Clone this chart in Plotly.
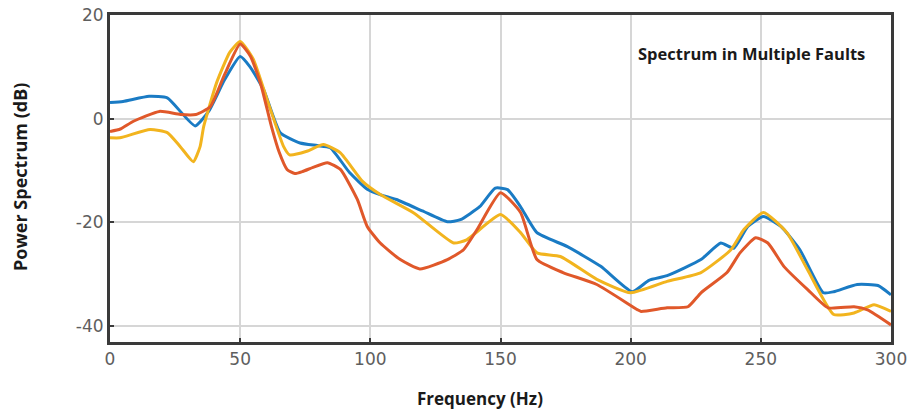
import plotly.graph_objects as go

blue_x = [0, 5, 15, 22, 32.7, 38, 44, 50, 53.8, 59, 65.4, 73, 79.6, 84.6, 92, 98.8, 104, 110, 120, 129.6, 134.6, 142, 148, 152.7, 157.7, 164, 175.7, 188.5, 200.6, 207, 214, 227, 234.6, 239.6, 245, 251, 257.7, 265, 274, 278, 287, 295, 300]
blue_y = [3.1, 3.3, 4.3, 4.0, -1.4, 1.5, 7.5, 12.0, 10.0, 5.6, -2.7, -4.7, -5.2, -5.6, -10.4, -13.6, -14.7, -15.6, -17.8, -19.9, -19.5, -17.0, -13.4, -13.7, -17.0, -22.0, -24.7, -28.5, -33.4, -31.2, -30.3, -27.2, -24.0, -25.0, -20.8, -18.9, -20.8, -25.3, -33.6, -33.4, -32.0, -32.2, -34.0]

red_x = [0, 4, 9, 19, 27, 33, 38.5, 44, 50, 54, 58, 62, 65, 68, 71, 74, 78, 83.5, 88.5, 95, 98.8, 103.8, 111.5, 119, 129.6, 135.8, 141, 150, 157.7, 164, 174, 187, 202.7, 204, 214, 222, 227, 237, 242, 248, 252.7, 259, 268, 275.8, 285.8, 291, 300]
red_y = [-2.5, -2.0, -0.5, 1.4, 0.8, 0.8, 2.3, 8.5, 14.4, 12.0, 6.5, -1.5, -6.5, -9.8, -10.6, -10.2, -9.4, -8.5, -9.8, -15.6, -20.8, -24.0, -27.2, -29.0, -27.2, -25.3, -21.4, -14.3, -18.1, -27.2, -29.7, -32.0, -36.9, -37.2, -36.5, -36.3, -33.6, -29.7, -25.9, -23.0, -24.0, -28.6, -33.0, -36.5, -36.3, -36.9, -39.8]

yellow_x = [0, 3.8, 15.4, 22, 27, 32, 34.6, 36, 41, 46, 50, 55, 60, 66.7, 69, 75.6, 82, 88.5, 97, 104, 116.7, 132, 137, 150, 157.7, 164, 173, 187, 200, 214, 227, 238.5, 243.5, 251, 260, 268, 278, 285.8, 293.5, 300]
yellow_y = [-3.7, -3.7, -2.1, -2.7, -5.4, -8.3, -5.4, -1.5, 7.0, 12.8, 14.9, 11.5, 4.2, -5.4, -7.0, -6.3, -5.0, -6.6, -12.1, -14.7, -18.2, -24.0, -23.4, -18.5, -22.0, -25.9, -26.6, -31.0, -33.6, -31.4, -29.7, -25.3, -21.4, -18.1, -22.0, -29.2, -37.8, -37.5, -35.9, -37.2]

x_ticks = [0, 50, 100, 150, 200, 250, 300]
y_ticks = [-40, -20, 0, 20]

fig = go.Figure()
for xs, ys, col in [(blue_x, blue_y, "#1a7bc4"), (yellow_x, yellow_y, "#f2b41e"), (red_x, red_y, "#e0582a")]:
    fig.add_trace(go.Scatter(x=xs, y=ys, mode="lines",
                             line=dict(color=col, width=3, shape="spline", smoothing=0.5),
                             showlegend=False, hoverinfo="skip"))

axis_common = dict(showgrid=True, gridcolor="#d6d6d6", gridwidth=1.5,
                   showline=True, linecolor="#3a3a3a", linewidth=3, mirror=True,
                   ticks="inside", ticklen=4, tickcolor="#3a3a3a", tickwidth=2,
                   tickfont=dict(family="DejaVu Sans", size=17, color="#5e5e5e"),
                   zeroline=False, automargin=False, ticklabeloverflow="allow")

fig.update_layout(
    width=907, height=411,
    margin=dict(l=110, r=16, t=15, b=69),
    paper_bgcolor="white", plot_bgcolor="white",
    xaxis=dict(range=[0, 300], tickvals=x_ticks, ticktext=[str(v) for v in x_ticks], **axis_common),
    yaxis=dict(range=[-43.1, 20], tickvals=y_ticks, ticktext=[str(v) for v in y_ticks], **axis_common),
    annotations=[
        dict(text="<b>Spectrum in Multiple Faults</b>", xref="paper", yref="paper",
             x=(751 - 110) / 781, y=(342 - 53) / 327, showarrow=False, xanchor="center", yanchor="middle",
             font=dict(family="Open Sans", size=16.5, color="#1a1a1a")),
        dict(text="<b>Frequency (Hz)</b>", xref="paper", yref="paper",
             x=(480 - 110) / 781, y=(342 - 398) / 327, showarrow=False, xanchor="center", yanchor="middle",
             font=dict(family="Open Sans", size=17, color="#1a1a1a")),
        dict(text="<b>Power Spectrum (dB)</b>", xref="paper", yref="paper",
             x=(20 - 110) / 781, y=(342 - 177) / 327, showarrow=False, xanchor="center", yanchor="middle",
             textangle=-90,
             font=dict(family="Open Sans", size=18, color="#1a1a1a")),
    ],
)
fig.write_html("out.html")
